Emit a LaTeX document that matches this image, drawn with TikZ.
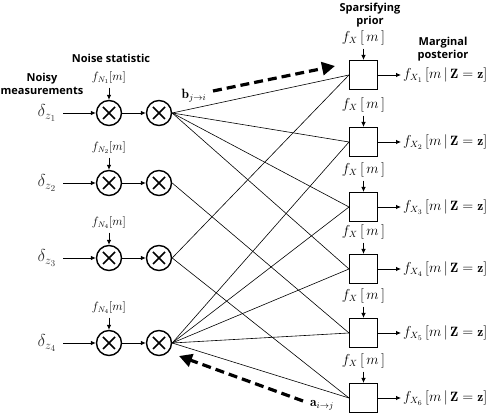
\documentclass[tikz,border=0pt]{standalone}
\usepackage{fontspec}
\setsansfont{Open Sans}
\usetikzlibrary{arrows.meta}
\tikzset{
  mult/.style={circle,draw,line width=1.4pt,minimum size=25pt,inner sep=0pt,
    path picture={\draw[line width=1.5pt]
      ([shift={(-6pt,-6pt)}]path picture bounding box.center) -- ([shift={(6pt,6pt)}]path picture bounding box.center)
      ([shift={(-6pt,6pt)}]path picture bounding box.center) -- ([shift={(6pt,-6pt)}]path picture bounding box.center);}},
  prior/.style={draw,line width=1pt,minimum width=28pt,minimum height=29pt,inner sep=0pt},
  heading/.style={font=\sffamily\bfseries\fontsize{11}{13.5}\selectfont,align=center},
  wire/.style={line width=0.6pt},
  feed/.style={-{Latex[length=5pt,width=4.5pt]},line width=0.8pt},
  msg/.style={line width=3.2pt,dash pattern=on 9pt off 5pt,-{Triangle[length=13pt,width=13pt]}},
  mathlbl/.style={font=\fontsize{13.5}{16}\selectfont}
}
\begin{document}
\begin{tikzpicture}[x=1pt,y=-1pt]
\useasboundingbox (0,0) rectangle (491,419);

% Headings
\node[heading] (hnoisy) at (42,84) {Noisy\\measurements};
\node[heading] (hnoise) at (111,58) {Noise statistic};
\node[heading] (hprior) at (370,15) {Sparsifying\\prior};
\node[heading] (hpost) at (443,49) {Marginal\\posterior};

% Measurements and noise multipliers
\foreach \r/\y/\n in {1/113/1,2/183/2,3/258/4,4/343/4} {
  \node[text=black!80,font=\fontsize{18}{20}\selectfont] (d\r) at (47,\y) {$\delta_{z_{\r}}$};
  \node[mult] (a\r) at (109,\y) {};
  \node[mult] (b\r) at (159,\y) {};
  \node[font=\fontsize{11.5}{13}\selectfont] (n\r) at (109,\y-35) {$f_{N_{\n}}[m]$};
  \draw[feed] (63,\y) -- (a\r);
  \draw[feed] (a\r) -- (b\r);
  \draw[feed] (n\r) -- (a\r);
}

% Priors and posteriors
\foreach \s/\y in {1/75,2/142,3/207,4/269,5/333,6/398} {
  \node[prior] (x\s) at (363.5,\y) {};
  \node[mathlbl] (p\s) at (363.5,\y-37) {$f_X\,[\,m\,]$};
  \node[mathlbl,anchor=west,inner sep=2pt] (o\s) at (401,\y) {$f_{X_{\s}}\,[m\,|\,\mathbf{Z}=\mathbf{z}]$};
  \draw[feed] (p\s) -- (x\s);
  \draw[feed] (x\s) -- (o\s);
}

% Edges
\foreach \i/\j in {1/1,1/2,1/3,1/4,2/5,3/1,3/6,4/2,4/3,4/4,4/5,4/6}
  \draw[wire] (b\i.east) -- (x\j.west);

% Messages
\node[mathlbl] (blab) at (194,96) {$\mathbf{b}_{j\to i}$};
\coordinate (bstart) at (213,91);
\coordinate (btip) at (335,66);
\draw[msg] (bstart) -- (btip);
\node[mathlbl] (alab) at (322,405) {$\mathbf{a}_{i\to j}$};
\coordinate (astart) at (303,401);
\coordinate (atip) at (179,356);
\draw[msg] (astart) -- (atip);
\end{tikzpicture}
\end{document}
